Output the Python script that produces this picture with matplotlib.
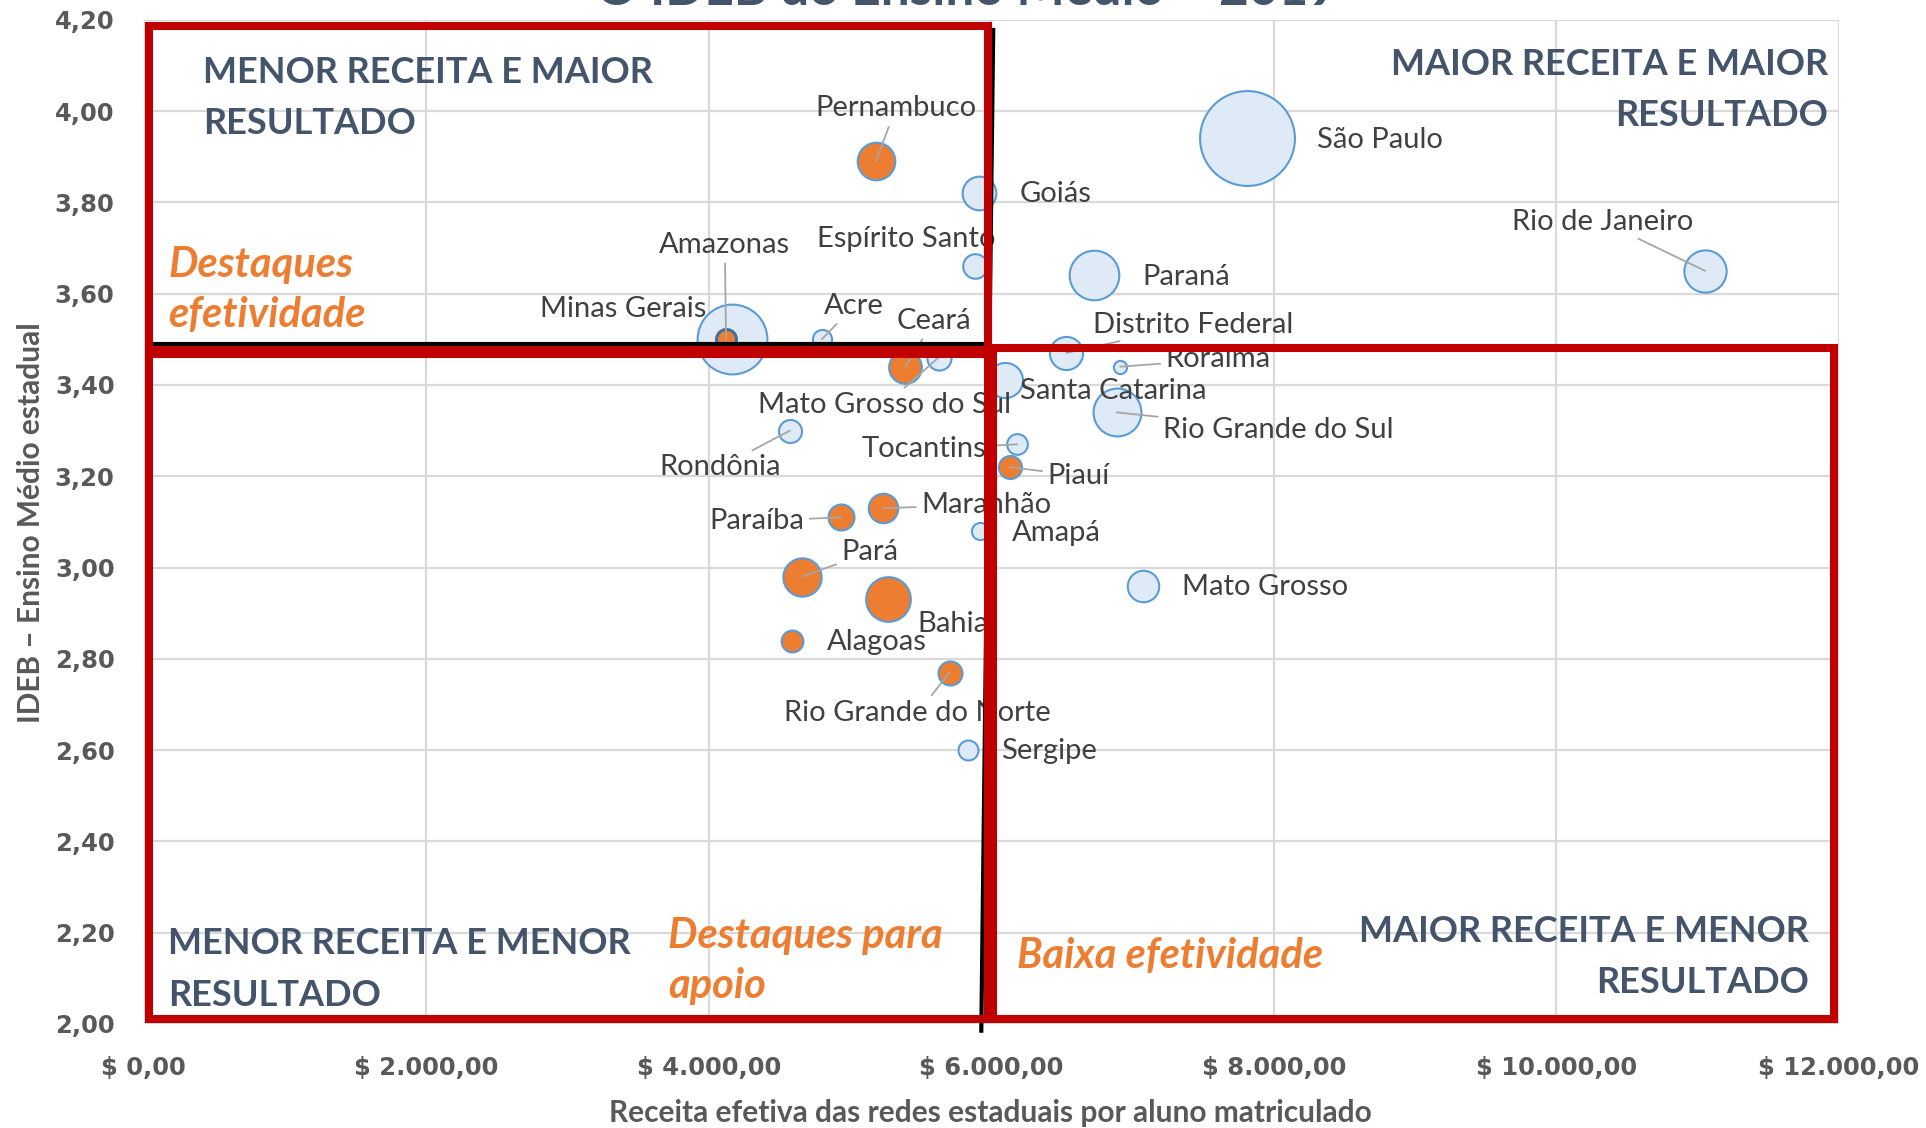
import matplotlib
matplotlib.use("Agg")
import matplotlib.pyplot as plt
from matplotlib.patches import Rectangle
from matplotlib.lines import Line2D
from matplotlib.ticker import FixedLocator, FuncFormatter

plt.rcParams['font.family'] = ['Lato', 'DejaVu Sans']

# dados: receita por aluno, IDEB, tamanho da bolha (matriculas, mil)
estados = ['São Paulo', 'Rio de Janeiro', 'Pernambuco', 'Goiás', 'Espírito Santo',
           'Paraná', 'Minas Gerais', 'Amazonas', 'Acre', 'Ceará',
           'Mato Grosso do Sul', 'Distrito Federal', 'Roraima', 'Santa Catarina',
           'Rio Grande do Sul', 'Rondônia', 'Tocantins', 'Piauí', 'Maranhão',
           'Paraíba', 'Amapá', 'Pará', 'Bahia', 'Mato Grosso', 'Alagoas',
           'Rio Grande do Norte', 'Sergipe']
receita = [7809, 11052, 5183, 5913, 5887,
           6730, 4165, 4122, 4800, 5391,
           5626, 6530, 6913, 6096,
           6887, 4574, 6183, 6130, 5235,
           4939, 5922, 4661, 5270, 7070, 4591,
           5704, 5835]
ideb = [3.94, 3.65, 3.89, 3.82, 3.66,
        3.64, 3.50, 3.50, 3.50, 3.44,
        3.46, 3.47, 3.44, 3.41,
        3.34, 3.30, 3.27, 3.22, 3.13,
        3.11, 3.08, 2.98, 2.93, 2.96, 2.84,
        2.77, 2.60]
matriculas = [1490, 296, 234, 188, 100,
              408, 807, 66, 61, 177,
              96, 182, 29, 204,
              380, 88, 71, 88, 144,
              112, 49, 243, 331, 164, 79,
              96, 66]
destaque = ['Pernambuco', 'Amazonas', 'Ceará', 'Piauí', 'Maranhão', 'Paraíba',
            'Pará', 'Bahia', 'Alagoas', 'Rio Grande do Norte']

y_ticks = [2.0, 2.2, 2.4, 2.6, 2.8, 3.0, 3.2, 3.4, 3.6, 3.8, 4.0, 4.2]
x_ticks = [0, 2000, 4000, 6000, 8000, 10000, 12000]

# posicao dos rotulos (px na imagem de 1568x918): dx, dy, alinhamento, linha guia
rotulos = {
    'São Paulo': (57, 1, 'left', False),
    'Rio de Janeiro': (-83, -40, 'center', True),
    'Pernambuco': (16, -43, 'center', True),
    'Goiás': (33, 1, 'left', False),
    'Espírito Santo': (-56, -22, 'center', False),
    'Paraná': (39, 1, 'left', False),
    'Minas Gerais': (-89, -25, 'center', False),
    'Amazonas': (-1, -77, 'center', True),
    'Acre': (26, -27, 'center', True),
    'Ceará': (23, -37, 'center', True),
    'Mato Grosso do Sul': (-44, 39, 'center', True),
    'Distrito Federal': (22, -23, 'left', True),
    'Roraima': (37, -6, 'left', True),
    'Santa Catarina': (12, 9, 'left', False),
    'Rio Grande do Sul': (38, 14, 'left', True),
    'Rondônia': (-57, 30, 'center', True),
    'Tocantins': (-76, 4, 'center', True),
    'Piauí': (31, 7, 'left', True),
    'Maranhão': (31, -3, 'left', True),
    'Paraíba': (-69, 3, 'center', True),
    'Amapá': (26, 2, 'left', False),
    'Pará': (32, -20, 'left', True),
    'Bahia': (24, 20, 'left', False),
    'Mato Grosso': (32, 1, 'left', False),
    'Alagoas': (28, 1, 'left', False),
    'Rio Grande do Norte': (-26, 33, 'center', True),
    'Sergipe': (27, 1, 'left', False),
}

W, H = 1568, 918
PT = 1926 / W * 0.72  # pontos por px da imagem reduzida


def fx(x):
    return x / W


def fy(y):
    return 1 - y / H


fig = plt.figure(figsize=(19.26, 11.28), dpi=100)
ax = fig.add_axes([0.07461, 0.09220, 0.88022, 0.89025])

# bolhas maiores primeiro
ordem = sorted(range(len(estados)), key=lambda i: -matriculas[i])
for i in ordem:
    laranja = estados[i] in destaque
    ax.scatter(receita[i], ideb[i], s=matriculas[i] * 3.13,
               color='#ED7D31' if laranja else '#DEEBF7',
               edgecolors='#41719C' if estados[i] == 'Amazonas' else '#5B9BD5',
               linewidths=1.5 if estados[i] != 'Amazonas' else 2.2, zorder=3)

for i, nome in enumerate(estados):
    dx, dy, ha, linha = rotulos[nome]
    props = None
    if linha:
        props = dict(arrowstyle='-', color='#A6A6A6', lw=1.3,
                     shrinkA=2, shrinkB=0)
    ax.annotate(nome, (receita[i], ideb[i]), xytext=(dx * PT, -dy * PT),
                textcoords='offset points', ha=ha, va='center',
                fontsize=21, color='#404040', arrowprops=props, zorder=4)

ax.set_xlim(0, 12000)
ax.set_ylim(2.0, 4.2)
ax.xaxis.set_major_locator(FixedLocator(x_ticks))
ax.yaxis.set_major_locator(FixedLocator(y_ticks))
ax.xaxis.set_major_formatter(FuncFormatter(
    lambda v, p: '$ ' + f'{v:,.2f}'.replace(',', 'X').replace('.', ',').replace('X', '.')))
ax.yaxis.set_major_formatter(FuncFormatter(lambda v, p: f'{v:.2f}'.replace('.', ',')))
ax.grid(True, color='#D9D9D9', lw=1.6)
ax.set_axisbelow(True)
for s in ax.spines.values():
    s.set_visible(False)
ax.tick_params(length=0, labelsize=17.5, labelcolor='#595959', pad=21)
for lab in ax.get_xticklabels() + ax.get_yticklabels():
    lab.set_fontweight('bold')
    lab.set_family('DejaVu Sans')
ax.tick_params(axis='x', pad=23)

fig.text(fx(25), fy(425), 'IDEB – Ensino Médio estadual', rotation=90,
         ha='center', va='center', fontsize=21.5, fontweight='bold', color='#595959')
fig.text(fx(806), fy(906), 'Receita efetiva das redes estaduais por aluno matriculado',
         ha='center', va='center', fontsize=21.5, fontweight='bold', color='#595959')
fig.text(fx(787), fy(4), 'O IDEB do Ensino Médio – 2019', ha='center', va='baseline',
         fontsize=37, fontweight='bold', color='#44546A')

# textos dos quadrantes
quad = dict(fontsize=26, fontweight='bold', color='#44546A', va='center', linespacing=1.68)
fig.text(fx(165), fy(80), 'MENOR RECEITA E MAIOR\nRESULTADO', ha='left', **quad)
fig.text(fx(1488), fy(73), 'MAIOR RECEITA E MAIOR\nRESULTADO', ha='right',
         multialignment='right', **quad)
fig.text(fx(137), fy(789), 'MENOR RECEITA E MENOR\nRESULTADO', ha='left', **quad)
fig.text(fx(1473), fy(779), 'MAIOR RECEITA E MENOR\nRESULTADO', ha='right',
         multialignment='right', **quad)
dest = dict(fontsize=30, fontweight='bold', style='italic', color='#ED7D31',
            va='center', ha='left', linespacing=1.4)
fig.text(fx(137), fy(236), 'Destaques\nefetividade', **dest)
fig.text(fx(544), fy(782), 'Destaques para\napoio', **dest)
fig.text(fx(828), fy(778), 'Baixa efetividade', **dest)

# linhas divisorias e caixas vermelhas
fig.add_artist(Line2D([fx(124.6), fx(804.6)], [fy(280.1), fy(280.1)],
                      color='black', lw=3, zorder=10))
fig.add_artist(Line2D([fx(808.6), fx(798.9)], [fy(24.4), fy(838.8)],
                      color='black', lw=3, zorder=10))
caixas = [(121.3, 21.2, 804.6, 285.0), (121.3, 288.3, 804.6, 829.0),
          (808.6, 283.4, 1493.5, 829.0)]
for x0, y0, x1, y1 in caixas:
    fig.add_artist(Rectangle((fx(x0), fy(y1)), fx(x1) - fx(x0), fy(y0) - fy(y1),
                             fill=False, edgecolor='#C00000', lw=5.8, zorder=11,
                             joinstyle='miter'))

fig.savefig('out.png', dpi=100)
